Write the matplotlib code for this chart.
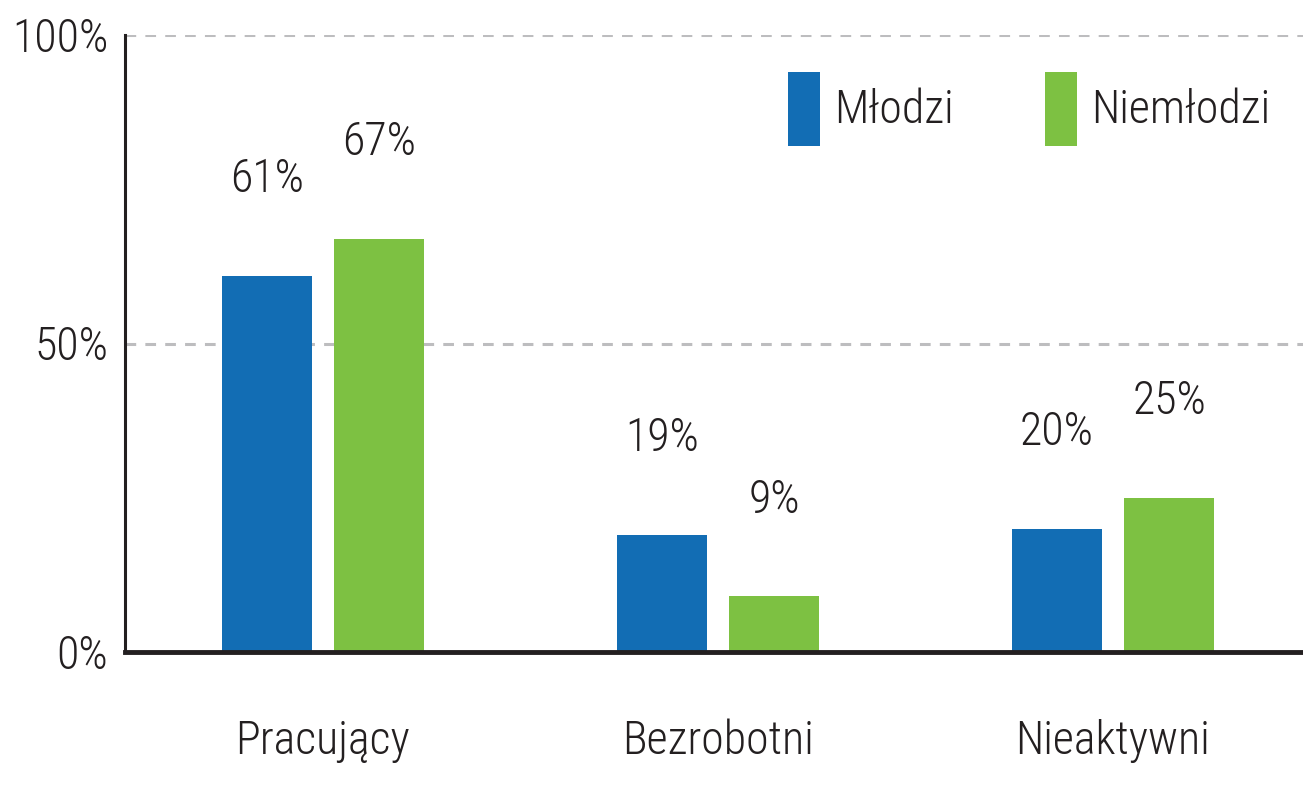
import matplotlib as mpl
mpl.use('Agg')

import matplotlib.pyplot as plt
from matplotlib import font_manager
import numpy as np

# data
categories = ["Pracujący", "Bezrobotni", "Nieaktywni"]
series = ["Młodzi", "Niemłodzi"]
mlodzi = [61, 19, 20]
niemlodzi = [67, 9, 25]
yticks = [0, 50, 100]

blue = "#126DB4"
green = "#7DC142"
text_color = "#231F20"
grid_color = "#BDBDBF"

# pick the narrowest installed family
names = {f.name for f in font_manager.fontManager.ttflist}
family = "DejaVu Sans"
for fam in ["Roboto Condensed", "Liberation Sans Narrow", "DejaVu Sans Condensed"]:
  if fam in names:
    family = fam
    break
plt.rcParams['font.family'] = [family, 'DejaVu Sans']
plt.rcParams['font.weight'] = 'light'
fs = 33

fig = plt.figure(figsize=(13.03, 7.86), dpi=100)
ax = fig.add_axes([125/1303, 134/786, 1 - 125/1303, 617/786])

x = np.arange(len(categories))
w = 0.228
off = 0.142
b1 = ax.bar(x - off, mlodzi, w, color=blue, label=series[0], zorder=3)
b2 = ax.bar(x + off, niemlodzi, w, color=green, label=series[1], zorder=3)

for bars, vals in [(b1, mlodzi), (b2, niemlodzi)]:
  for r, v in zip(bars, vals):
    ax.annotate("%d%%" % v, (r.get_x() + r.get_width()/2, r.get_height()),
                xytext=(0, 60), textcoords='offset points',
                ha='center', va='baseline', fontsize=fs, color=text_color)

ax.set_xlim(-0.501, 2.481)
ax.set_ylim(0, 100)
ax.set_yticks(yticks)
ax.set_yticklabels(["%d%%" % t for t in yticks])
ax.set_xticks(x)
ax.set_xticklabels(categories)
ax.tick_params(axis='both', length=0, labelsize=fs, colors=text_color)
ax.tick_params(axis='y', pad=12)
ax.tick_params(axis='x', pad=48)
for lab in ax.get_yticklabels():
  lab.set_verticalalignment('top')
  lab.set_transform(lab.get_transform() + mpl.transforms.ScaledTranslation(0, 0.18, fig.dpi_scale_trans))

for t in yticks[1:]:
  ax.axhline(t, color=grid_color, linestyle=(0, (3.5, 3)), linewidth=2.2, zorder=1)

for s in ['top', 'right']:
  ax.spines[s].set_visible(False)
ax.spines['left'].set_color(text_color)
ax.spines['left'].set_linewidth(2.2)
ax.spines['bottom'].set_color(text_color)
ax.spines['bottom'].set_linewidth(3.5)
ax.spines['bottom'].set_zorder(4)

ax.legend(loc='upper left', bbox_to_anchor=(788/1303, 1 - 72/786),
          bbox_transform=fig.transFigure, ncol=2, frameon=False,
          fontsize=fs, handlelength=0.7, handleheight=2.1,
          handletextpad=0.3, columnspacing=2.0, borderpad=0,
          borderaxespad=0, labelcolor=text_color)

plt.savefig("out.png", dpi=100)
plt.close()
